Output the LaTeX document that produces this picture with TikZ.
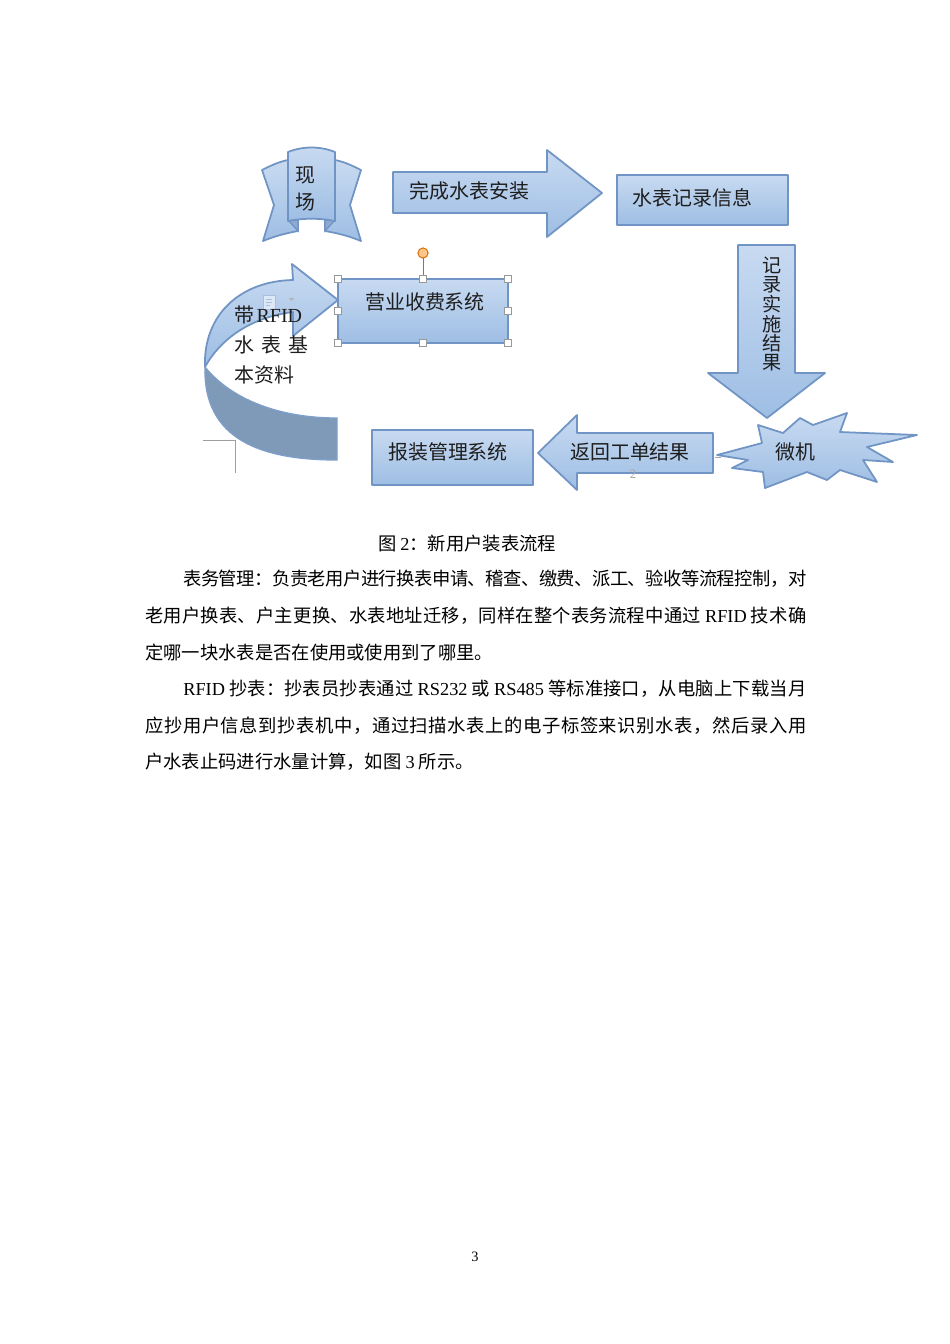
\documentclass[tikz,border=0pt]{standalone}
\usepackage{fontspec}
\setmainfont{Noto Sans CJK SC}
\newfontfamily\lat{Liberation Serif}
\XeTeXinterchartokenstate=1
\newXeTeXintercharclass\cjkcls
\newcount\cjkc
\cjkc="4E00
\loop\XeTeXcharclass\cjkc=\cjkcls\relax\ifnum\cjkc<"9FFF\advance\cjkc by 1\relax\repeat
\XeTeXcharclass"3001=\cjkcls
\XeTeXcharclass"3002=\cjkcls
\XeTeXcharclass"FF0C=\cjkcls
\XeTeXcharclass"FF1A=\cjkcls
\XeTeXinterchartoks\cjkcls\cjkcls={\hskip0pt plus 3pt minus 0.8pt\relax}
\definecolor{topc}{RGB}{200,218,241}
\definecolor{botc}{RGB}{158,190,228}
\definecolor{bord}{RGB}{112,148,196}
\definecolor{darkband}{RGB}{126,154,184}
\definecolor{txt}{RGB}{30,30,30}
\newcommand{\dfont}{\fontsize{12.5pt}{15pt}\selectfont}
\newcommand{\bfontx}{\fontsize{11.47pt}{14pt}\selectfont}
\tikzset{
  shapebox/.style={draw=bord, line width=1.1pt, top color=topc, bottom color=botc, line join=round},
  lbl/.style={inner sep=0pt, font=\dfont, text=txt},
  bodyline/.style={inner sep=0pt, anchor=west, font=\bfontx, text=black},
  handle/.style={draw=gray!80, fill=white, line width=0.5pt, minimum size=4.4pt, inner sep=0pt, rectangle}
}
\begin{document}
\begin{tikzpicture}[x=0.6266pt,y=-0.6266pt]
\useasboundingbox[fill=white] (0,0) rectangle (950,1344);

% ---- ribbon 现场
\draw[shapebox] (288,160) .. controls (278,162) and (270,166) .. (262,170) -- (274,205) -- (263,241) .. controls (275,236) and (287,233) .. (298,231) -- (298,220) -- (288,220) -- cycle;
\draw[shapebox] (335,160) .. controls (345,162) and (353,166) .. (361,170) -- (350,205) -- (361,241) .. controls (349,236) and (337,233) .. (325,231) -- (325,220) -- (335,220) -- cycle;
\draw[draw=bord, line width=0.8pt, fill=bord!80] (288,220) -- (298,231) -- (298,220) -- cycle;
\draw[draw=bord, line width=0.8pt, fill=bord!80] (335,220) -- (325,231) -- (325,220) -- cycle;
\draw[shapebox] (288,152) .. controls (303,146) and (320,146) .. (335,152) -- (335,221) .. controls (320,218) and (303,218) .. (288,221) -- cycle;
\node[lbl] (xian) at (305,175) {现};
\node[lbl] (chang) at (305,202) {场};

% ---- arrow 完成水表安装
\draw[shapebox] (393,172) -- (547,172) -- (547,150) -- (602,193) -- (547,237) -- (547,213) -- (393,213) -- cycle;
\node[lbl, anchor=west] (wc) at (409,191) {完成水表安装};

% ---- box 水表记录信息
\draw[shapebox] (617,175) rectangle (788,225);
\node[lbl, anchor=west] (sb) at (632,198) {水表记录信息};

% ---- down arrow 记录实施结果
\draw[shapebox] (738,245) -- (795,245) -- (795,373) -- (825,373) -- (767,418) -- (708,373) -- (738,373) -- cycle;
\foreach \c [count=\i from 0] in {记,录,实,施,结,果}
  \node[inner sep=0pt, font=\fontsize{12pt}{14pt}\selectfont, text=txt] (v\i) at (772,265+19.6*\i) {\c};

% ---- star 微机
\draw[shapebox] (717,455) -- (762,443) -- (758,425) -- (783,433) -- (800,418) -- (813,425) -- (847,413) -- (840,432) -- (917,435) -- (867,447) -- (893,462) -- (863,460) -- (877,482) -- (840,470) -- (827,480) -- (807,472) -- (765,488) -- (763,472) -- (732,468) -- (748,460) -- cycle;
\node[lbl] (wj) at (795,452) {微机};

% ---- left arrow 返回工单结果
\draw[shapebox] (713,433) -- (577,433) -- (577,415) -- (538,453) -- (577,490) -- (577,473) -- (713,473) -- cycle;
\node[lbl] (fh) at (630,452) {返回工单结果};
\node[inner sep=0pt, font=\lat\fontsize{8pt}{9pt}\selectfont, text=gray!70] (two) at (633,474) {2};
\draw[gray!70, line width=0.4pt] (715,457) -- (721,457);

% ---- box 报装管理系统
\draw[shapebox] (372,430) rectangle (533,485);
\node[lbl] (bz) at (448,452) {报装管理系统};

% ---- curved arrow
\draw[shapebox] (292,264) -- (338,300) -- (293,336) -- (293,312) .. controls (252,317) and (221,338) .. (205,367) .. controls (203,315) and (240,281) .. (293,280) -- cycle;
\draw[draw=bord!90, line width=0.8pt, fill=darkband] (205,367) .. controls (203,440) and (262,460) .. (337,460) -- (337,418) .. controls (280,418) and (232,400) .. (205,367) -- cycle;
% paste options icon
\draw[draw=bord!60, line width=0.6pt, fill=topc!60] (263,295) rectangle (275,309);
\draw[draw=bord!60, line width=0.5pt] (266,299) -- (272,299) (266,302) -- (272,302) (266,305) -- (270,305);
\fill[gray!60] (289,298) -- (294,298) -- (291.5,301) -- cycle;
% text in curved arrow
\node[lbl, anchor=west] (t1) at (234,315) {带\hspace{1.5pt}{\lat RFID}};
\node[lbl, anchor=west] (t2) at (234,345) {水\hspace{4.4pt}表\hspace{4.4pt}基};
\node[lbl, anchor=west] (t3) at (234,375) {本资料};

% ---- box 营业收费系统 with selection handles
\draw[shapebox] (338,279) rectangle (508,343);
\node[lbl] (yy) at (425,302) {营业收费系统};
\draw[draw=orange!80!black, line width=0.6pt] (423,258) -- (423,279);
\draw[draw=orange!85!black, fill=orange!45, line width=0.6pt] (423,253) circle (3.2pt);
\foreach \p in {(338,279),(423,279),(508,279),(338,311),(508,311),(338,343),(423,343),(508,343)}
  \node[handle] at \p {};

% corner mark
\draw[gray!75, line width=0.5pt] (203,440) -- (235,440) -- (235,473);

% ---- caption and body text
\node[inner sep=0pt, font=\bfontx] (cap) at (467,544) {图 {\lat 2}：新用户装表流程};
\node[bodyline] (l1) at (183,579) {\hbox to 390.4pt{表务管理：负责老用户进行换表申请、稽查、缴费、派工、验收等流程控制，对}};
\node[bodyline] (l2) at (145,616) {\hbox to 414.2pt{老用户换表、户主更换、水表地址迁移，同样在整个表务流程中通过 {\lat RFID} 技术确}};
\node[bodyline] (l3) at (145,653) {定哪一块水表是否在使用或使用到了哪里。};
\node[bodyline] (l4) at (183,689) {\hbox to 390.4pt{{\lat RFID} 抄表：抄表员抄表通过 {\lat RS232} 或 {\lat RS485} 等标准接口，从电脑上下载当月}};
\node[bodyline] (l5) at (145,726) {\hbox to 414.2pt{应抄用户信息到抄表机中，通过扫描水表上的电子标签来识别水表，然后录入用}};
\node[bodyline] (l6) at (145,762) {户水表止码进行水量计算，如图 {\lat 3} 所示。};

\node[inner sep=0pt, font=\lat\fontsize{9pt}{10pt}\selectfont] (pg) at (475,1257) {3};
\end{tikzpicture}
\end{document}
